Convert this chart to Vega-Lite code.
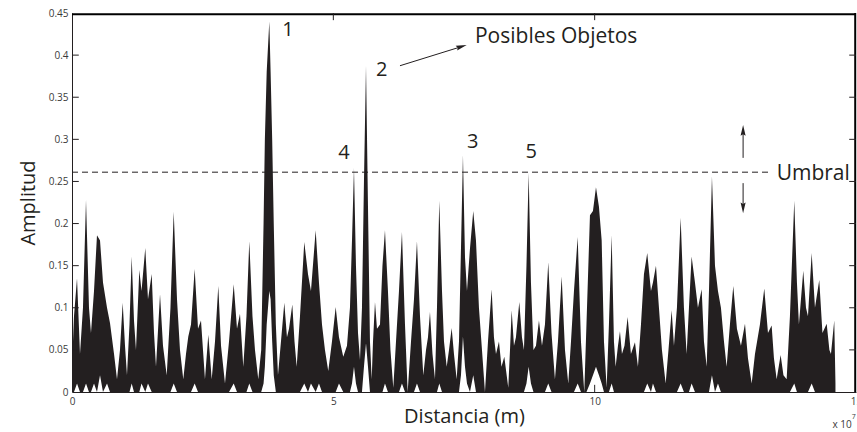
{
  "$schema": "https://vega.github.io/schema/vega-lite/v6.json",
  "width": 784,
  "height": 379,
  "autosize": {"type": "none"},
  "padding": {"left": 72, "top": 13, "right": 1, "bottom": 40},
  "background": "white",
  "config": {
    "view": {"stroke": null},
    "font": "Open Sans",
    "axis": {"grid": false, "domainColor": "#231f20", "tickColor": "#231f20", "labelColor": "#3a3a3a", "labelFont": "Open Sans", "labelFontSize": 10, "titleFont": "Open Sans", "titleFontWeight": "normal", "titleColor": "#231f20", "titleFontSize": 20, "labelFlush": false, "labelOverlap": false}
  },
  "datasets": {
    "signal": [
      {"d":0.000,"a":0.03,"b":0},{"d":0.038,"a":0.09,"b":0},{"d":0.096,"a":0.135,"b":0.01},{"d":0.153,"a":0.045,"b":0},{"d":0.210,"a":0.10,"b":0},{"d":0.268,"a":0.228,"b":0.01},{"d":0.325,"a":0.10,"b":0},{"d":0.363,"a":0.07,"b":0},{"d":0.421,"a":0.12,"b":0.01},{"d":0.478,"a":0.186,"b":0},{"d":0.536,"a":0.18,"b":0.02},{"d":0.593,"a":0.13,"b":0},{"d":0.670,"a":0.10,"b":0.01},{"d":0.727,"a":0.082,"b":0},{"d":0.804,"a":0.045,"b":0},{"d":0.861,"a":0.015,"b":0},{"d":0.918,"a":0.05,"b":0},{"d":0.970,"a":0.106,"b":0},{"d":1.014,"a":0.055,"b":0},{"d":1.052,"a":0.02,"b":0},{"d":1.100,"a":0.08,"b":0},{"d":1.142,"a":0.161,"b":0.01},{"d":1.186,"a":0.085,"b":0},{"d":1.224,"a":0.05,"b":0},{"d":1.288,"a":0.145,"b":0},{"d":1.330,"a":0.12,"b":0.01},{"d":1.402,"a":0.171,"b":0},{"d":1.454,"a":0.11,"b":0.01},{"d":1.525,"a":0.14,"b":0},{"d":1.569,"a":0.07,"b":0},{"d":1.607,"a":0.03,"b":0},{"d":1.684,"a":0.116,"b":0},{"d":1.741,"a":0.055,"b":0},{"d":1.812,"a":0.02,"b":0},{"d":1.884,"a":0.10,"b":0},{"d":1.946,"a":0.214,"b":0.01},{"d":2.009,"a":0.11,"b":0},{"d":2.066,"a":0.05,"b":0},{"d":2.129,"a":0.015,"b":0},{"d":2.181,"a":0.045,"b":0},{"d":2.225,"a":0.066,"b":0},{"d":2.277,"a":0.08,"b":0},{"d":2.347,"a":0.146,"b":0.01},{"d":2.411,"a":0.075,"b":0},{"d":2.468,"a":0.085,"b":0},{"d":2.544,"a":0.015,"b":0},{"d":2.608,"a":0.068,"b":0},{"d":2.673,"a":0.015,"b":0},{"d":2.736,"a":0.06,"b":0},{"d":2.799,"a":0.126,"b":0},{"d":2.851,"a":0.055,"b":0},{"d":2.927,"a":0.01,"b":0},{"d":3.004,"a":0.06,"b":0},{"d":3.094,"a":0.128,"b":0.01},{"d":3.157,"a":0.075,"b":0},{"d":3.214,"a":0.093,"b":0},{"d":3.277,"a":0.03,"b":0},{"d":3.338,"a":0.09,"b":0},{"d":3.392,"a":0.179,"b":0.01},{"d":3.453,"a":0.09,"b":0},{"d":3.501,"a":0.05,"b":0},{"d":3.564,"a":0.015,"b":0},{"d":3.620,"a":0.05,"b":0},{"d":3.665,"a":0.20,"b":0.01},{"d":3.690,"a":0.30,"b":0.03},{"d":3.725,"a":0.38,"b":0.08},{"d":3.775,"a":0.44,"b":0.12},{"d":3.800,"a":0.38,"b":0.11},{"d":3.830,"a":0.30,"b":0.06},{"d":3.860,"a":0.20,"b":0.02},{"d":3.900,"a":0.08,"b":0},{"d":3.941,"a":0.02,"b":0},{"d":3.998,"a":0.06,"b":0},{"d":4.062,"a":0.106,"b":0},{"d":4.113,"a":0.065,"b":0},{"d":4.152,"a":0.075,"b":0},{"d":4.215,"a":0.104,"b":0},{"d":4.257,"a":0.06,"b":0},{"d":4.299,"a":0.03,"b":0},{"d":4.362,"a":0.09,"b":0},{"d":4.444,"a":0.178,"b":0.01},{"d":4.515,"a":0.14,"b":0},{"d":4.572,"a":0.12,"b":0.01},{"d":4.662,"a":0.192,"b":0},{"d":4.725,"a":0.13,"b":0.01},{"d":4.783,"a":0.08,"b":0},{"d":4.840,"a":0.05,"b":0},{"d":4.903,"a":0.025,"b":0},{"d":4.974,"a":0.06,"b":0},{"d":5.045,"a":0.101,"b":0},{"d":5.108,"a":0.065,"b":0.01},{"d":5.190,"a":0.042,"b":0},{"d":5.261,"a":0.055,"b":0},{"d":5.318,"a":0.10,"b":0},{"d":5.357,"a":0.18,"b":0.01},{"d":5.395,"a":0.266,"b":0.03},{"d":5.433,"a":0.15,"b":0.01},{"d":5.472,"a":0.07,"b":0},{"d":5.510,"a":0.038,"b":0},{"d":5.548,"a":0.10,"b":0},{"d":5.586,"a":0.25,"b":0.03},{"d":5.625,"a":0.387,"b":0.058},{"d":5.663,"a":0.22,"b":0.03},{"d":5.701,"a":0.06,"b":0},{"d":5.734,"a":0.015,"b":0},{"d":5.759,"a":0.06,"b":0},{"d":5.797,"a":0.107,"b":0},{"d":5.835,"a":0.075,"b":0},{"d":5.893,"a":0.08,"b":0},{"d":5.940,"a":0.15,"b":0},{"d":5.988,"a":0.192,"b":0.01},{"d":6.045,"a":0.12,"b":0},{"d":6.093,"a":0.05,"b":0},{"d":6.147,"a":0.005,"b":0},{"d":6.199,"a":0.06,"b":0},{"d":6.256,"a":0.12,"b":0},{"d":6.313,"a":0.19,"b":0.01},{"d":6.371,"a":0.08,"b":0},{"d":6.422,"a":0.0,"b":0},{"d":6.486,"a":0.06,"b":0},{"d":6.543,"a":0.11,"b":0},{"d":6.600,"a":0.179,"b":0.01},{"d":6.658,"a":0.09,"b":0},{"d":6.721,"a":0.02,"b":0},{"d":6.773,"a":0.05,"b":0},{"d":6.811,"a":0.065,"b":0},{"d":6.849,"a":0.095,"b":0},{"d":6.897,"a":0.045,"b":0},{"d":6.945,"a":0.015,"b":0},{"d":6.983,"a":0.10,"b":0},{"d":7.027,"a":0.227,"b":0.01},{"d":7.079,"a":0.12,"b":0},{"d":7.117,"a":0.06,"b":0},{"d":7.169,"a":0.03,"b":0},{"d":7.213,"a":0.05,"b":0},{"d":7.264,"a":0.076,"b":0},{"d":7.308,"a":0.045,"b":0},{"d":7.360,"a":0.015,"b":0},{"d":7.404,"a":0.06,"b":0},{"d":7.442,"a":0.17,"b":0.02},{"d":7.480,"a":0.281,"b":0.066},{"d":7.519,"a":0.16,"b":0.03},{"d":7.557,"a":0.12,"b":0.01},{"d":7.614,"a":0.17,"b":0},{"d":7.677,"a":0.215,"b":0.02},{"d":7.729,"a":0.18,"b":0},{"d":7.786,"a":0.10,"b":0},{"d":7.844,"a":0.05,"b":0},{"d":7.901,"a":0.0,"b":0},{"d":7.959,"a":0.06,"b":0},{"d":8.029,"a":0.122,"b":0},{"d":8.073,"a":0.065,"b":0},{"d":8.112,"a":0.045,"b":0},{"d":8.169,"a":0.06,"b":0},{"d":8.217,"a":0.03,"b":0},{"d":8.271,"a":0.042,"b":0},{"d":8.347,"a":0.005,"b":0},{"d":8.380,"a":0.05,"b":0},{"d":8.412,"a":0.097,"b":0},{"d":8.456,"a":0.055,"b":0},{"d":8.494,"a":0.065,"b":0},{"d":8.558,"a":0.107,"b":0},{"d":8.609,"a":0.065,"b":0},{"d":8.647,"a":0.05,"b":0},{"d":8.695,"a":0.15,"b":0.01},{"d":8.737,"a":0.26,"b":0.03},{"d":8.781,"a":0.13,"b":0.01},{"d":8.829,"a":0.05,"b":0},{"d":8.877,"a":0.055,"b":0},{"d":8.934,"a":0.085,"b":0},{"d":8.992,"a":0.055,"b":0},{"d":9.049,"a":0.08,"b":0},{"d":9.112,"a":0.154,"b":0.01},{"d":9.174,"a":0.07,"b":0},{"d":9.240,"a":0.015,"b":0},{"d":9.298,"a":0.06,"b":0},{"d":9.369,"a":0.137,"b":0},{"d":9.432,"a":0.05,"b":0},{"d":9.495,"a":0.01,"b":0},{"d":9.547,"a":0.06,"b":0},{"d":9.604,"a":0.12,"b":0},{"d":9.675,"a":0.184,"b":0.01},{"d":9.738,"a":0.06,"b":0},{"d":9.801,"a":0.0,"b":0},{"d":9.843,"a":0.08,"b":0},{"d":9.910,"a":0.21,"b":0.01},{"d":9.967,"a":0.215,"b":0.02},{"d":10.025,"a":0.243,"b":0.03},{"d":10.082,"a":0.22,"b":0.02},{"d":10.134,"a":0.18,"b":0.01},{"d":10.178,"a":0.06,"b":0},{"d":10.229,"a":0.005,"b":0},{"d":10.273,"a":0.08,"b":0},{"d":10.325,"a":0.186,"b":0.01},{"d":10.369,"a":0.06,"b":0},{"d":10.401,"a":0.03,"b":0},{"d":10.446,"a":0.055,"b":0},{"d":10.484,"a":0.072,"b":0},{"d":10.522,"a":0.045,"b":0},{"d":10.570,"a":0.055,"b":0},{"d":10.631,"a":0.089,"b":0},{"d":10.694,"a":0.045,"b":0},{"d":10.771,"a":0.059,"b":0},{"d":10.828,"a":0.03,"b":0},{"d":10.886,"a":0.08,"b":0},{"d":10.943,"a":0.14,"b":0},{"d":11.006,"a":0.165,"b":0.01},{"d":11.077,"a":0.12,"b":0},{"d":11.115,"a":0.13,"b":0.01},{"d":11.173,"a":0.15,"b":0},{"d":11.230,"a":0.10,"b":0},{"d":11.287,"a":0.05,"b":0},{"d":11.358,"a":0.01,"b":0},{"d":11.412,"a":0.05,"b":0},{"d":11.473,"a":0.097,"b":0},{"d":11.517,"a":0.055,"b":0},{"d":11.574,"a":0.10,"b":0},{"d":11.645,"a":0.207,"b":0.01},{"d":11.708,"a":0.10,"b":0},{"d":11.760,"a":0.045,"b":0},{"d":11.804,"a":0.10,"b":0},{"d":11.855,"a":0.161,"b":0.01},{"d":11.919,"a":0.13,"b":0},{"d":11.976,"a":0.10,"b":0},{"d":12.047,"a":0.122,"b":0},{"d":12.091,"a":0.06,"b":0},{"d":12.143,"a":0.03,"b":0},{"d":12.187,"a":0.12,"b":0},{"d":12.244,"a":0.256,"b":0.02},{"d":12.302,"a":0.15,"b":0},{"d":12.359,"a":0.12,"b":0.01},{"d":12.416,"a":0.10,"b":0},{"d":12.474,"a":0.06,"b":0},{"d":12.525,"a":0.03,"b":0},{"d":12.588,"a":0.08,"b":0},{"d":12.652,"a":0.126,"b":0},{"d":12.722,"a":0.075,"b":0},{"d":12.799,"a":0.055,"b":0},{"d":12.876,"a":0.081,"b":0},{"d":12.933,"a":0.04,"b":0},{"d":13.004,"a":0.01,"b":0},{"d":13.067,"a":0.045,"b":0},{"d":13.162,"a":0.08,"b":0},{"d":13.245,"a":0.123,"b":0},{"d":13.316,"a":0.07,"b":0},{"d":13.386,"a":0.079,"b":0},{"d":13.430,"a":0.04,"b":0},{"d":13.482,"a":0.015,"b":0},{"d":13.558,"a":0.044,"b":0},{"d":13.612,"a":0.02,"b":0},{"d":13.673,"a":0.015,"b":0},{"d":13.736,"a":0.09,"b":0},{"d":13.819,"a":0.227,"b":0.01},{"d":13.870,"a":0.13,"b":0},{"d":13.908,"a":0.08,"b":0},{"d":13.991,"a":0.144,"b":0},{"d":14.043,"a":0.10,"b":0},{"d":14.081,"a":0.09,"b":0},{"d":14.152,"a":0.165,"b":0.01},{"d":14.215,"a":0.10,"b":0},{"d":14.297,"a":0.133,"b":0},{"d":14.358,"a":0.07,"b":0},{"d":14.439,"a":0.081,"b":0},{"d":14.491,"a":0.05,"b":0},{"d":14.521,"a":0.045,"b":0},{"d":14.584,"a":0.085,"b":0},{"d":14.607,"a":0.01,"b":0}
    ],
    "digits": [
      {"d":4.132,"v":0.4298,"t":"1"},
      {"d":5.925,"v":0.3823,"t":"2"},
      {"d":7.666,"v":0.2972,"t":"3"},
      {"d":5.204,"v":0.2841,"t":"4"},
      {"d":8.787,"v":0.2853,"t":"5"}
    ],
    "notes": [
      {"d":7.710,"v":0.4215,"t":"Posibles Objetos"},
      {"d":13.482,"v":0.2588,"t":"Umbral"}
    ],
    "arrows": [
      {"x1":6.275,"y1":0.3874,"x2":7.442,"y2":0.4099},
      {"x1":12.84,"y1":0.278,"x2":12.84,"y2":0.31},
      {"x1":12.84,"y1":0.248,"x2":12.84,"y2":0.2193},
      {"x1":5,"y1":0.45,"x2":5,"y2":0.4415},
      {"x1":10,"y1":0.45,"x2":10,"y2":0.4415},
      {"x1":5,"y1":0,"x2":5,"y2":0.0085},
      {"x1":10,"y1":0,"x2":10,"y2":0.0085},
      {"x1":0,"y1":0.05,"x2":0.13,"y2":0.05},
      {"x1":0,"y1":0.1,"x2":0.13,"y2":0.1},
      {"x1":0,"y1":0.15,"x2":0.13,"y2":0.15},
      {"x1":0,"y1":0.2,"x2":0.13,"y2":0.2},
      {"x1":0,"y1":0.25,"x2":0.13,"y2":0.25},
      {"x1":0,"y1":0.3,"x2":0.13,"y2":0.3},
      {"x1":0,"y1":0.35,"x2":0.13,"y2":0.35},
      {"x1":0,"y1":0.4,"x2":0.13,"y2":0.4},
      {"x1":14.87,"y1":0.05,"x2":15,"y2":0.05},
      {"x1":14.87,"y1":0.1,"x2":15,"y2":0.1},
      {"x1":14.87,"y1":0.15,"x2":15,"y2":0.15},
      {"x1":14.87,"y1":0.2,"x2":15,"y2":0.2},
      {"x1":14.87,"y1":0.25,"x2":15,"y2":0.25},
      {"x1":14.87,"y1":0.3,"x2":15,"y2":0.3},
      {"x1":14.87,"y1":0.35,"x2":15,"y2":0.35},
      {"x1":14.87,"y1":0.4,"x2":15,"y2":0.4}
    ],
    "border": [
      {"x1":0,"y1":0.4485,"x2":15,"y2":0.4485},
      {"x1":14.985,"y1":0,"x2":14.985,"y2":0.45}
    ],
    "heads": [
      {"x":7.442,"y":0.4099,"ang":72.8},
      {"x":12.84,"y":0.3100,"ang":0},
      {"x":12.84,"y":0.2193,"ang":180}
    ]
  },
  "layer": [
    {
      "data": {"name": "signal"},
      "mark": {"type": "area", "color": "#231f20", "interpolate": "linear"},
      "encoding": {
        "x": {"field": "d", "type": "quantitative", "scale": {"domain": [0, 15], "nice": false, "zero": false},
              "axis": {"orient": "bottom", "values": [0, 5, 10, 15], "title": "Distancia (m)", "ticks": false, "labelPadding": 4, "titlePadding": 0}},
        "y": {"field": "a", "type": "quantitative", "scale": {"domain": [0, 0.45], "nice": false},
              "axis": {"orient": "left", "values": [0, 0.05, 0.1, 0.15, 0.2, 0.25, 0.3, 0.35, 0.4, 0.45], "format": ".2~f", "title": "Amplitud", "ticks": false, "labelPadding": 4, "titlePadding": 10}},
        "y2": {"field": "b"}
      }
    },
    {
      "data": {"values": [{"d0": 0, "d1": 13.35, "u": 0.261}]},
      "mark": {"type": "rule", "strokeDash": [6, 4], "color": "#231f20", "strokeWidth": 1},
      "encoding": {
        "x": {"field": "d0", "type": "quantitative", "scale": {"domain": [0, 15], "nice": false, "zero": false}},
        "x2": {"field": "d1"},
        "y": {"field": "u", "type": "quantitative", "scale": {"domain": [0, 0.45], "nice": false}}
      }
    },
    {
      "data": {"name": "border"},
      "mark": {"type": "rule", "color": "#000000", "strokeWidth": 2},
      "encoding": {
        "x": {"field": "x1", "type": "quantitative", "scale": {"domain": [0, 15], "nice": false, "zero": false}},
        "y": {"field": "y1", "type": "quantitative", "scale": {"domain": [0, 0.45], "nice": false}},
        "x2": {"field": "x2"},
        "y2": {"field": "y2"}
      }
    },
    {
      "data": {"name": "arrows"},
      "mark": {"type": "rule", "color": "#231f20", "strokeWidth": 1},
      "encoding": {
        "x": {"field": "x1", "type": "quantitative", "scale": {"domain": [0, 15], "nice": false, "zero": false}},
        "y": {"field": "y1", "type": "quantitative", "scale": {"domain": [0, 0.45], "nice": false}},
        "x2": {"field": "x2"},
        "y2": {"field": "y2"}
      }
    },
    {
      "data": {"name": "heads"},
      "mark": {"type": "point", "shape": "M0,-1L0.42,0.8L0,0.55L-0.42,0.8Z", "filled": true, "color": "#231f20", "size": 144, "opacity": 1, "strokeWidth": 0},
      "encoding": {
        "x": {"field": "x", "type": "quantitative", "scale": {"domain": [0, 15], "nice": false, "zero": false}},
        "y": {"field": "y", "type": "quantitative", "scale": {"domain": [0, 0.45], "nice": false}},
        "angle": {"field": "ang", "type": "quantitative", "scale": null}
      }
    },
    {
      "data": {"name": "digits"},
      "mark": {"type": "text", "font": "Open Sans", "fontSize": 20, "color": "#231f20", "baseline": "middle", "align": "center"},
      "encoding": {
        "x": {"field": "d", "type": "quantitative", "scale": {"domain": [0, 15], "nice": false, "zero": false}},
        "y": {"field": "v", "type": "quantitative", "scale": {"domain": [0, 0.45], "nice": false}},
        "text": {"field": "t"}
      }
    },
    {
      "data": {"name": "notes"},
      "mark": {"type": "text", "font": "Open Sans", "fontSize": 21, "color": "#231f20", "baseline": "middle", "align": "left"},
      "encoding": {
        "x": {"field": "d", "type": "quantitative", "scale": {"domain": [0, 15], "nice": false, "zero": false}},
        "y": {"field": "v", "type": "quantitative", "scale": {"domain": [0, 0.45], "nice": false}},
        "text": {"field": "t"}
      }
    },
    {
      "data": {"values": [{"d": 14.917, "v": -0.0392, "t": "x 10"}]},
      "mark": {"type": "text", "font": "Open Sans", "fontSize": 10, "color": "#3a3a3a", "baseline": "middle", "align": "right", "clip": false},
      "encoding": {
        "x": {"field": "d", "type": "quantitative", "scale": {"domain": [0, 15], "nice": false, "zero": false}},
        "y": {"field": "v", "type": "quantitative", "scale": {"domain": [0, 0.45], "nice": false}},
        "text": {"field": "t"}
      }
    },
    {
      "data": {"values": [{"d": 14.92, "v": -0.0300, "t": "7"}]},
      "mark": {"type": "text", "font": "Open Sans", "fontSize": 7, "color": "#3a3a3a", "baseline": "middle", "align": "left", "clip": false},
      "encoding": {
        "x": {"field": "d", "type": "quantitative", "scale": {"domain": [0, 15], "nice": false, "zero": false}},
        "y": {"field": "v", "type": "quantitative", "scale": {"domain": [0, 0.45], "nice": false}},
        "text": {"field": "t"}
      }
    }
  ]
}
